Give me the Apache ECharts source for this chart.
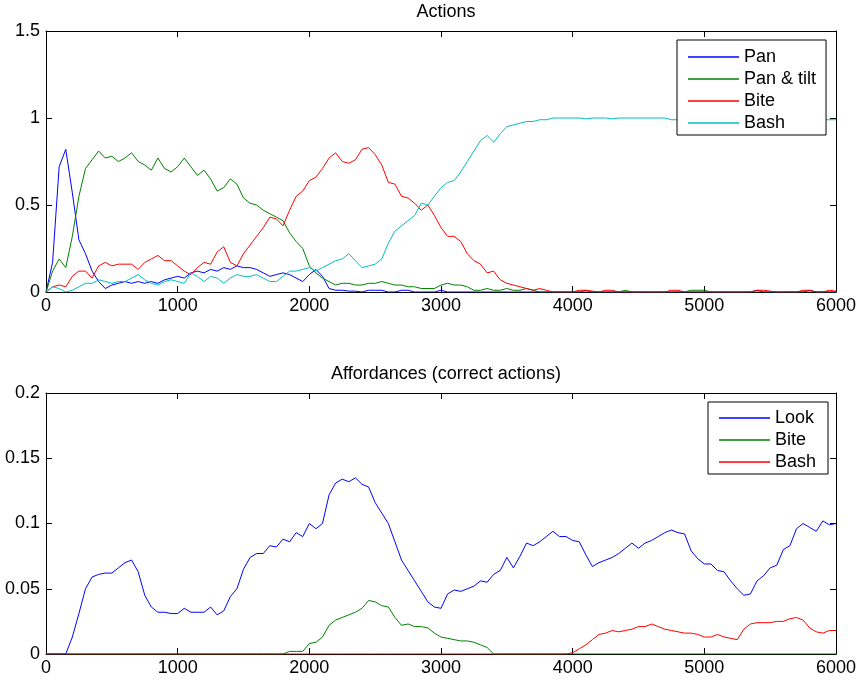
<!DOCTYPE html>
<html>
<head>
<meta charset="utf-8">
<script src="https://cdn.jsdelivr.net/npm/echarts@6/dist/echarts.min.js"></script>
<style>
html,body{margin:0;padding:0;background:#fff;}
#chart{width:861px;height:683px;}
</style>
</head>
<body>
<div id="chart"></div>
<script>
// Sampling step along the x axis (time steps)
const xStep = 50;
const xTicks = [0, 1000, 2000, 3000, 4000, 5000, 6000];

// ---- Top panel: Actions ----
const pan = [
  0, 0.17, 0.72, 0.82, 0.57, 0.30, 0.22, 0.12, 0.06, 0.02,
  0.04, 0.05, 0.06, 0.05, 0.06, 0.05, 0.06, 0.05, 0.07, 0.08,
  0.09, 0.08, 0.11, 0.12, 0.11, 0.13, 0.12, 0.14, 0.13, 0.15,
  0.14, 0.14, 0.13, 0.11, 0.09, 0.10, 0.11, 0.10, 0.08, 0.06,
  0.10, 0.13, 0.09, 0.02, 0.01, 0.01, 0.005, 0.005, 0, 0.01,
  0.01, 0.01, 0, 0, 0.01, 0.01, 0, 0, 0, 0,
  0.01, 0, 0, 0, 0, 0, 0, 0, 0, 0,
  0, 0, 0, 0, 0, 0, 0, 0, 0, 0,
  0, 0, 0, 0, 0, 0, 0, 0, 0, 0,
  0, 0, 0, 0, 0, 0, 0, 0, 0, 0,
  0, 0, 0, 0, 0, 0, 0, 0, 0.01, 0,
  0, 0, 0, 0, 0, 0, 0.01, 0, 0, 0,
  0
];
const panTilt = [
  0, 0.12, 0.19, 0.14, 0.32, 0.55, 0.71, 0.76, 0.81, 0.77,
  0.78, 0.75, 0.77, 0.80, 0.75, 0.73, 0.70, 0.77, 0.71, 0.69,
  0.72, 0.77, 0.72, 0.67, 0.70, 0.65, 0.58, 0.60, 0.65, 0.62,
  0.54, 0.51, 0.50, 0.47, 0.45, 0.43, 0.41, 0.34, 0.29, 0.25,
  0.15, 0.11, 0.08, 0.06, 0.04, 0.05, 0.05, 0.04, 0.04, 0.05,
  0.05, 0.06, 0.05, 0.04, 0.04, 0.03, 0.03, 0.02, 0.02, 0.02,
  0.04, 0.05, 0.04, 0.04, 0.03, 0.01, 0.01, 0.02, 0.01, 0.01,
  0.02, 0.01, 0.01, 0.02, 0.01, 0, 0, 0, 0, 0,
  0, 0, 0.01, 0, 0, 0, 0, 0, 0.01, 0,
  0, 0, 0, 0, 0, 0, 0, 0, 0.01, 0.01,
  0.01, 0, 0, 0, 0, 0, 0, 0, 0, 0,
  0, 0, 0, 0, 0, 0, 0, 0, 0, 0,
  0
];
const bite = [
  0, 0.03, 0.04, 0.03, 0.09, 0.12, 0.12, 0.08, 0.15, 0.17,
  0.15, 0.16, 0.16, 0.16, 0.13, 0.17, 0.19, 0.21, 0.18, 0.18,
  0.15, 0.12, 0.10, 0.14, 0.17, 0.16, 0.23, 0.26, 0.17, 0.15,
  0.22, 0.27, 0.32, 0.37, 0.43, 0.42, 0.38, 0.47, 0.55, 0.58,
  0.64, 0.66, 0.71, 0.77, 0.80, 0.75, 0.74, 0.76, 0.82, 0.83,
  0.79, 0.73, 0.63, 0.62, 0.55, 0.54, 0.51, 0.47, 0.50, 0.44,
  0.37, 0.32, 0.32, 0.29, 0.22, 0.18, 0.16, 0.11, 0.12, 0.07,
  0.05, 0.04, 0.03, 0.02, 0.01, 0.02, 0.01, 0, 0, 0,
  0, 0.01, 0.01, 0.005, 0, 0.01, 0.01, 0, 0, 0,
  0, 0, 0, 0, 0, 0.01, 0.01, 0, 0, 0,
  0, 0, 0, 0, 0, 0, 0, 0, 0.01, 0.01,
  0.005, 0, 0, 0, 0, 0.01, 0.01, 0, 0, 0.01,
  0.005
];
const bash = [
  0, 0.03, 0.02, 0, 0.01, 0.03, 0.05, 0.05, 0.07, 0.06,
  0.05, 0.06, 0.06, 0.08, 0.10, 0.07, 0.05, 0.04, 0.06, 0.07,
  0.06, 0.05, 0.11, 0.09, 0.06, 0.09, 0.08, 0.05, 0.08, 0.10,
  0.09, 0.09, 0.10, 0.08, 0.06, 0.06, 0.09, 0.12, 0.12, 0.13,
  0.14, 0.12, 0.14, 0.16, 0.18, 0.19, 0.22, 0.18, 0.14, 0.15,
  0.16, 0.19, 0.28, 0.35, 0.38, 0.41, 0.44, 0.51, 0.50, 0.55,
  0.60, 0.63, 0.64, 0.69, 0.75, 0.81, 0.87, 0.90, 0.86, 0.91,
  0.95, 0.96, 0.97, 0.98, 0.98, 0.99, 0.99, 1.0, 1.0, 1.0,
  1.0, 1.0, 0.995, 1.0, 1.0, 1.0, 0.995, 1.0, 1.0, 1.0,
  1.0, 1.0, 1.0, 1.0, 1.0, 0.99, 0.99, 0.99, 0.99, 0.99,
  0.99, 0.99, 0.99, 0.99, 0.99, 0.99, 0.99, 0.99, 0.99, 0.99,
  0.99, 0.99, 0.99, 0.99, 0.99, 0.99, 0.99, 0.99, 0.99, 0.99,
  0.99
];

// ---- Bottom panel: Affordances (correct actions) ----
const affLook = [
  0, 0, 0, 0, 0.013, 0.031, 0.050, 0.059, 0.061, 0.062,
  0.062, 0.066, 0.070, 0.072, 0.063, 0.045, 0.036, 0.032, 0.032, 0.031,
  0.031, 0.035, 0.032, 0.032, 0.032, 0.036, 0.030, 0.033, 0.044, 0.050,
  0.065, 0.074, 0.077, 0.077, 0.083, 0.082, 0.088, 0.086, 0.093, 0.090,
  0.100, 0.096, 0.100, 0.122, 0.131, 0.134, 0.132, 0.135, 0.130, 0.128,
  0.116, 0.108, 0.100, 0.086, 0.072, 0.064, 0.056, 0.048, 0.040, 0.036,
  0.035, 0.046, 0.049, 0.048, 0.050, 0.052, 0.056, 0.055, 0.061, 0.064,
  0.074, 0.066, 0.075, 0.085, 0.083, 0.086, 0.090, 0.094, 0.090, 0.090,
  0.087, 0.086, 0.076, 0.067, 0.070, 0.072, 0.074, 0.077, 0.081, 0.085,
  0.081, 0.085, 0.087, 0.090, 0.093, 0.095, 0.093, 0.092, 0.079, 0.073,
  0.069, 0.069, 0.064, 0.063, 0.056, 0.050, 0.045, 0.046, 0.056, 0.060,
  0.066, 0.068, 0.080, 0.083, 0.096, 0.100, 0.097, 0.094, 0.102, 0.099,
  0.100
];
const affBite = [
  0, 0, 0, 0, 0, 0, 0, 0, 0, 0,
  0, 0, 0, 0, 0, 0, 0, 0, 0, 0,
  0, 0, 0, 0, 0, 0, 0, 0, 0, 0,
  0, 0, 0, 0, 0, 0, 0, 0.002, 0.002, 0.002,
  0.008, 0.009, 0.013, 0.022, 0.026, 0.028, 0.030, 0.032, 0.035, 0.041,
  0.040, 0.037, 0.036, 0.028, 0.022, 0.023, 0.021, 0.021, 0.020, 0.016,
  0.013, 0.012, 0.011, 0.010, 0.010, 0.009, 0.007, 0.005, 0, 0,
  0, 0, 0, 0, 0, 0, 0, 0, 0, 0,
  0, 0, 0, 0, 0, 0, 0, 0, 0, 0,
  0, 0, 0, 0, 0, 0, 0, 0, 0, 0,
  0, 0, 0, 0, 0, 0, 0, 0, 0, 0,
  0, 0, 0, 0, 0, 0, 0, 0, 0, 0,
  0
];
const affBash = [
  0, 0, 0, 0, 0, 0, 0, 0, 0, 0,
  0, 0, 0, 0, 0, 0, 0, 0, 0, 0,
  0, 0, 0, 0, 0, 0, 0, 0, 0, 0,
  0, 0, 0, 0, 0, 0, 0, 0, 0, 0,
  0, 0, 0, 0, 0, 0, 0, 0, 0, 0,
  0, 0, 0, 0, 0, 0, 0, 0, 0, 0,
  0, 0, 0, 0, 0, 0, 0, 0, 0, 0,
  0, 0, 0, 0, 0, 0, 0, 0, 0, 0,
  0.001, 0.004, 0.007, 0.011, 0.015, 0.016, 0.018, 0.017, 0.018, 0.019,
  0.021, 0.021, 0.023, 0.021, 0.019, 0.018, 0.017, 0.016, 0.016, 0.015,
  0.013, 0.013, 0.015, 0.013, 0.012, 0.011, 0.019, 0.023, 0.024, 0.024,
  0.024, 0.025, 0.025, 0.027, 0.028, 0.026, 0.020, 0.017, 0.016, 0.018,
  0.018
];

const topNames = ['Pan', 'Pan & tilt', 'Bite', 'Bash'];
const bottomNames = ['Look', 'Bite ', 'Bash '];
const topTitle = 'Actions';
const bottomTitle = 'Affordances (correct actions)';

const FONT = 'Liberation Sans, Arial, Helvetica, sans-serif';
const FS = 18;
const BLUE = '#0000ff', GREEN = '#008000', RED = '#ff0000', CYAN = '#00bfbf';

function toPairs(arr) { return arr.map((v, i) => [i * xStep, v]); }

function mkSeries(name, arr, color, gi) {
  return {
    name: name, type: 'line', data: toPairs(arr),
    xAxisIndex: gi * 2, yAxisIndex: gi * 2,
    symbol: 'none', color: color,
    lineStyle: { width: 1, color: color },
    animation: false, silent: true
  };
}

const axisCommon = {
  axisLine: { show: true, onZero: false, lineStyle: { color: '#000', width: 1 } },
  axisTick: { show: true, inside: true, length: 6, lineStyle: { color: '#000' } },
  splitLine: { show: false }
};

function xAxes(gi) {
  return [
    Object.assign({}, axisCommon, {
      gridIndex: gi, type: 'value', min: 0, max: 6000, interval: 1000, position: 'bottom',
      axisLabel: { color: '#000', fontSize: FS, fontFamily: FONT, margin: 5,
        formatter: function (v) { return String(v); } }
    }),
    Object.assign({}, axisCommon, {
      gridIndex: gi, type: 'value', min: 0, max: 6000, interval: 1000, position: 'top',
      axisLabel: { show: false }
    })
  ];
}
function yAxes(gi, max, interval) {
  return [
    Object.assign({}, axisCommon, {
      gridIndex: gi, type: 'value', min: 0, max: max, interval: interval, position: 'left',
      axisLabel: { color: '#000', fontSize: FS, fontFamily: FONT, margin: 6,
        formatter: function (v) { return String(+v.toFixed(2)); } }
    }),
    Object.assign({}, axisCommon, {
      gridIndex: gi, type: 'value', min: 0, max: max, interval: interval, position: 'right',
      axisLabel: { show: false }
    })
  ];
}

const legendCommon = {
  orient: 'vertical', icon: 'rect', itemWidth: 51, itemHeight: 1.5, itemGap: 4,
  backgroundColor: '#fff', borderColor: '#000', borderWidth: 1, borderRadius: 0,
  selectedMode: false,
  formatter: function (n) { return n.trim(); },
  textStyle: { color: '#000', fontSize: FS, fontFamily: FONT, lineHeight: 18 }
};

const option = {
  animation: false,
  backgroundColor: '#fff',
  title: [
    { text: topTitle, left: 441, top: -2, textAlign: 'center',
      textStyle: { fontSize: FS, fontWeight: 'normal', color: '#000', fontFamily: FONT } },
    { text: bottomTitle, left: 441, top: 360, textAlign: 'center',
      textStyle: { fontSize: FS, fontWeight: 'normal', color: '#000', fontFamily: FONT } }
  ],
  grid: [
    { left: 46, right: 25, top: 31, bottom: 391, containLabel: false },
    { left: 46, right: 25, top: 393, bottom: 29, containLabel: false }
  ],
  xAxis: xAxes(0).concat(xAxes(1)),
  yAxis: yAxes(0, 1.5, 0.5).concat(yAxes(1, 0.2, 0.05)),
  legend: [
    Object.assign({}, legendCommon, { data: topNames, left: 677, top: 40, padding: [8, 10, 3, 11] }),
    Object.assign({}, legendCommon, { data: bottomNames, left: 708, top: 402, padding: [7, 12, 3, 11] })
  ],
  series: [
    mkSeries(topNames[0], pan, BLUE, 0),
    mkSeries(topNames[1], panTilt, GREEN, 0),
    mkSeries(topNames[2], bite, RED, 0),
    mkSeries(topNames[3], bash, CYAN, 0),
    mkSeries(bottomNames[0], affLook, BLUE, 1),
    mkSeries(bottomNames[1], affBite, GREEN, 1),
    mkSeries(bottomNames[2], affBash, RED, 1)
  ]
};

const chart = echarts.init(document.getElementById('chart'), null, { renderer: 'canvas' });
chart.setOption(option);
</script>
</body>
</html>
